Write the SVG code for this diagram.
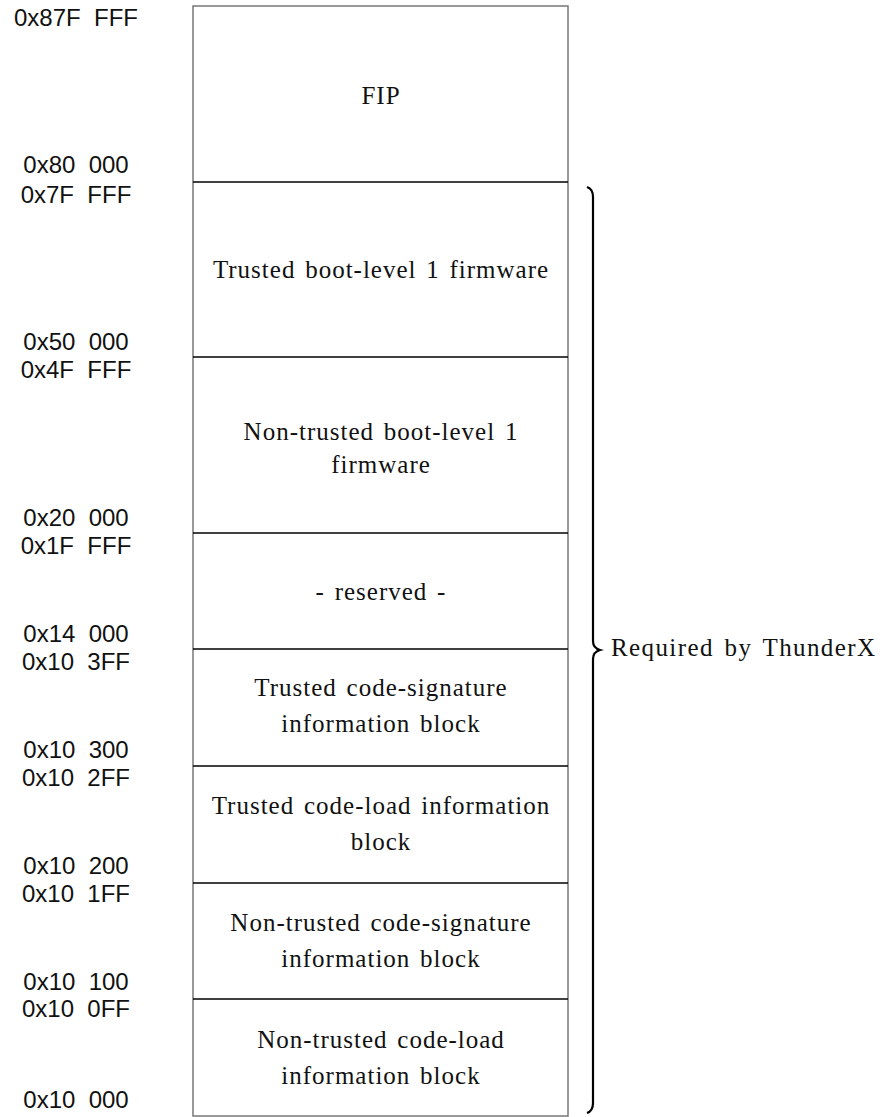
<svg xmlns="http://www.w3.org/2000/svg" width="887" height="1117" viewBox="0 0 887 1117">
<style>
.addr{font-family:"Liberation Sans",Arial,sans-serif;font-size:24px;fill:#111;text-anchor:middle;white-space:pre}
.lbl{font-family:"Liberation Serif","Times New Roman",serif;font-size:25px;letter-spacing:1px;word-spacing:2.5px;fill:#111;text-anchor:middle}
.div{stroke:#000;stroke-width:1.3}
.outer{fill:#fff;stroke:#777;stroke-width:1.5}
</style>
<rect x="0" y="0" width="887" height="1117" fill="#fff"/>
<g id="memory-map">
<rect class="outer" x="193" y="6" width="375" height="1110"/>
</g>
<g id="dividers">
<line class="div" x1="193" y1="182" x2="568" y2="182"/>
<line class="div" x1="193" y1="357" x2="568" y2="357"/>
<line class="div" x1="193" y1="533" x2="568" y2="533"/>
<line class="div" x1="193" y1="649" x2="568" y2="649"/>
<line class="div" x1="193" y1="766" x2="568" y2="766"/>
<line class="div" x1="193" y1="883" x2="568" y2="883"/>
<line class="div" x1="193" y1="999" x2="568" y2="999"/>
</g>
<g id="fip"><text class="lbl" x="381" y="104">FIP</text></g>
<g id="trusted-bl1"><text class="lbl" x="381" y="278">Trusted boot-level 1 firmware</text></g>
<g id="nontrusted-bl1"><text class="lbl" x="381" y="440">Non-trusted boot-level 1</text><text class="lbl" x="381" y="473">firmware</text></g>
<g id="reserved"><text class="lbl" x="381" y="600">- reserved -</text></g>
<g id="trusted-sig"><text class="lbl" x="381" y="696">Trusted code-signature</text><text class="lbl" x="381" y="732">information block</text></g>
<g id="trusted-load"><text class="lbl" x="381" y="814">Trusted code-load information</text><text class="lbl" x="381" y="850">block</text></g>
<g id="nontrusted-sig"><text class="lbl" x="381" y="931">Non-trusted code-signature</text><text class="lbl" x="381" y="967">information block</text></g>
<g id="nontrusted-load"><text class="lbl" x="381" y="1048">Non-trusted code-load</text><text class="lbl" x="381" y="1084">information block</text></g>
<g id="addresses">
<text class="addr" x="76" y="26">0x87F  FFF</text>
<text class="addr" x="76" y="173">0x80  000</text>
<text class="addr" x="76" y="203">0x7F  FFF</text>
<text class="addr" x="76" y="350">0x50  000</text>
<text class="addr" x="76" y="378">0x4F  FFF</text>
<text class="addr" x="76" y="526">0x20  000</text>
<text class="addr" x="76" y="554">0x1F  FFF</text>
<text class="addr" x="76" y="642">0x14  000</text>
<text class="addr" x="76" y="670">0x10  3FF</text>
<text class="addr" x="76" y="758">0x10  300</text>
<text class="addr" x="76" y="786">0x10  2FF</text>
<text class="addr" x="76" y="874">0x10  200</text>
<text class="addr" x="76" y="902">0x10  1FF</text>
<text class="addr" x="76" y="990">0x10  100</text>
<text class="addr" x="76" y="1017">0x10  0FF</text>
<text class="addr" x="76" y="1108">0x10  000</text>
</g>
<g id="brace">
<path d="M587,187 Q593,189 593,197 L593,641 Q593,648 600,650 Q593,652 593,659 L593,1103 Q593,1111 587,1113" fill="none" stroke="#000" stroke-width="2.2"/>
<text x="611" y="656" font-family="'Liberation Serif','Times New Roman',serif" font-size="25" letter-spacing="1.4" word-spacing="3" fill="#111">Required by ThunderX</text>
</g>
</svg>
